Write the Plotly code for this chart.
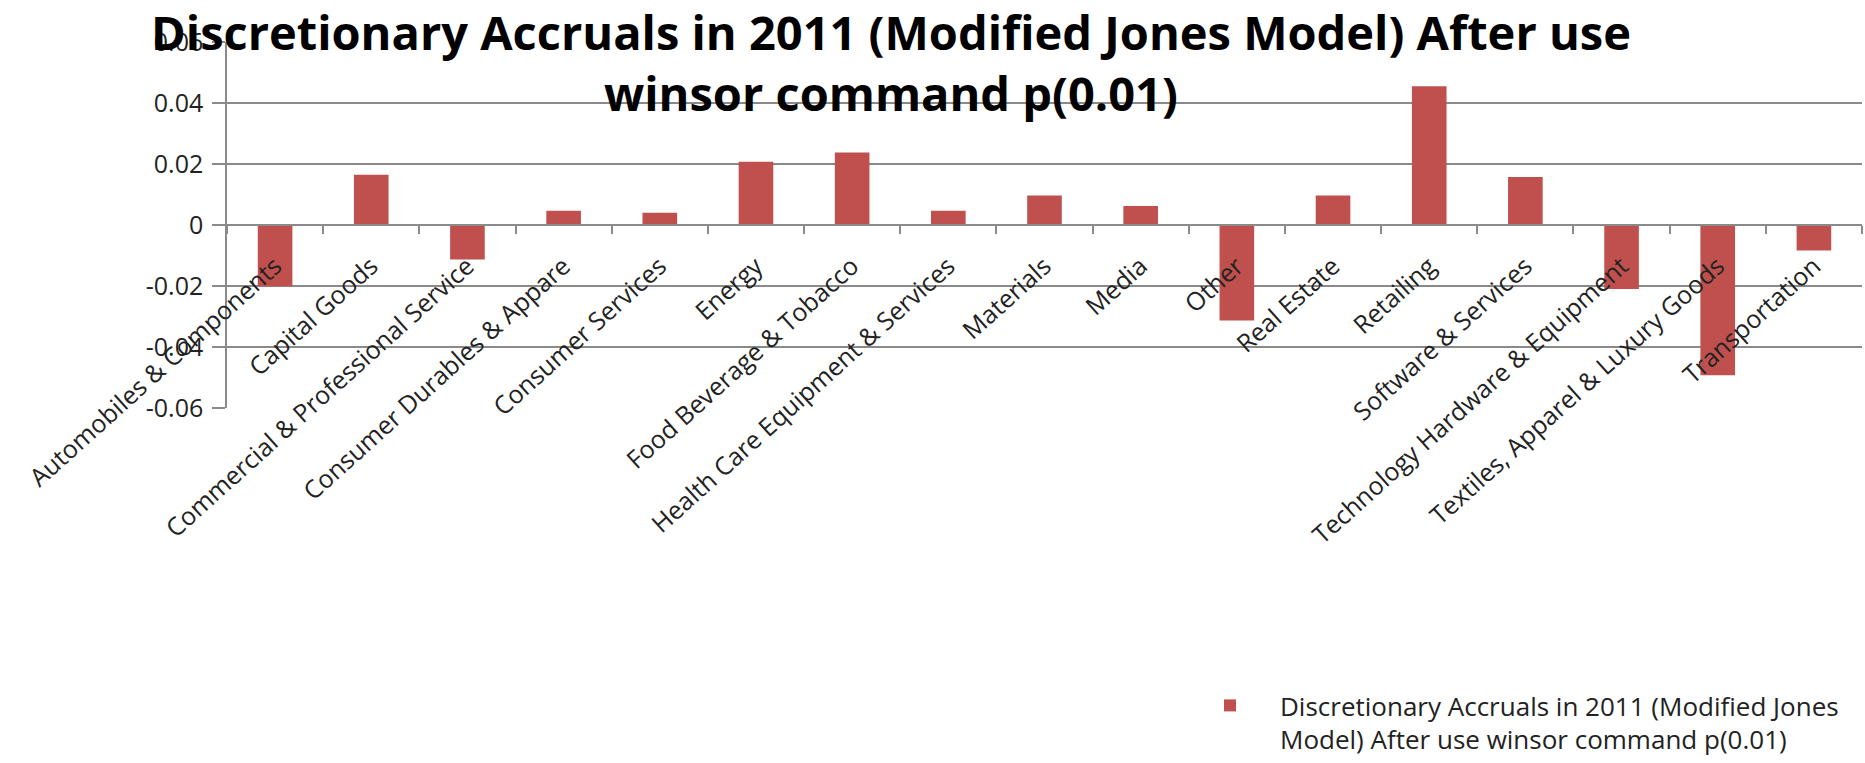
import plotly.graph_objects as go

categories = [
    "Automobiles & Components", "Capital Goods", "Commercial & Professional Service",
    "Consumer Durables & Appare", "Consumer Services", "Energy",
    "Food Beverage & Tobacco", "Health Care Equipment & Services", "Materials",
    "Media", "Other", "Real Estate", "Retailing", "Software & Services",
    "Technology Hardware & Equipment", "Textiles, Apparel & Luxury Goods", "Transportation",
]
values = [
    -0.0201, 0.0165, -0.0113, 0.0047, 0.0040, 0.0207, 0.0238, 0.0047, 0.0097,
    0.0062, -0.0313, 0.0097, 0.0455, 0.0157, -0.0210, -0.0493, -0.0084,
]
y_tickvals = [0.06, 0.04, 0.02, 0, -0.02, -0.04, -0.06]
y_ticktext = ["0.06", "0.04", "0.02", "0", "-0.02", "-0.04", "-0.06"]

series_name = "Discretionary Accruals in 2011 (Modified Jones<br>Model) After use winsor command p(0.01)"
title_text = "Discretionary Accruals in 2011 (Modified Jones Model) After use<br>winsor command p(0.01)"

GRID = "#8a8a8a"
W, H = 1865, 763
ML, MR, MT, MB = 227, 3, 42, 355
PW, PH = W - ML - MR, H - MT - MB
FONT = "Open Sans"

def px_x(px):
    return (px - ML) / PW

def px_y(py):
    return (H - MB - py) / PH

fig = go.Figure()
fig.add_trace(go.Bar(
    x=categories, y=values, name=series_name,
    marker=dict(color="#C0504D", line=dict(width=0)),
    showlegend=True,
))

fig.add_annotation(
    text=title_text, xref="paper", yref="paper",
    x=px_x(891), y=px_y(-2), xanchor="center", yanchor="top",
    showarrow=False, align="center",
    font=dict(family=FONT, size=47, color="#000000", weight="bold"),
)

fig.update_layout(
    width=W, height=H,
    margin=dict(l=ML, r=MR, t=MT, b=MB, pad=0, autoexpand=False),
    paper_bgcolor="white", plot_bgcolor="white",
    bargap=0.64,
    font=dict(family=FONT, color="#000000"),
    showlegend=True,
    legend=dict(
        x=px_x(1180), xanchor="left",
        y=px_y(682), yanchor="top",
        valign="top", itemwidth=90, bgcolor="rgba(0,0,0,0)",
        font=dict(family=FONT, size=26, color="#222222"),
    ),
    xaxis=dict(
        anchor="free", position=0.5,
        showline=True, linecolor=GRID, linewidth=1.5,
        ticks="outside", tickson="boundaries", ticklen=8, tickcolor=GRID, tickwidth=1.5,
        tickangle=-42, ticklabelstandoff=16,
        tickfont=dict(family=FONT, size=25, color="#222222"),
        showgrid=False,
    ),
    yaxis=dict(
        range=[-0.06, 0.06], tickvals=y_tickvals, ticktext=y_ticktext,
        showline=True, linecolor=GRID, linewidth=1.5,
        ticks="outside", ticklen=13, tickcolor=GRID, tickwidth=1.5,
        ticklabelstandoff=4,
        showgrid=True, gridcolor=GRID, gridwidth=1.5,
        zeroline=False,
        tickfont=dict(family=FONT, size=25, color="#222222"),
    ),
)

fig.write_html("out.html")
